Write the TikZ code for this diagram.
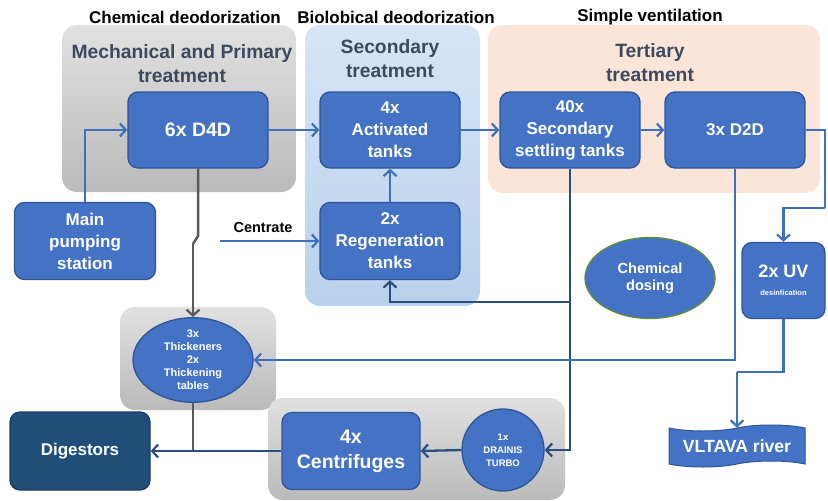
\documentclass[tikz,border=0pt]{standalone}
\usepackage{fontspec}
\setmainfont{Liberation Sans}
\usetikzlibrary{arrows.meta,shapes.geometric,shapes.symbols}
\definecolor{nodeblue}{HTML}{4472C4}
\definecolor{nodeedge}{HTML}{2F5597}
\definecolor{flowblue}{HTML}{3E70BD}
\definecolor{navyline}{HTML}{2A4E80}
\definecolor{digblue}{HTML}{1F4E79}
\definecolor{titlecol}{HTML}{3D4A5E}
\definecolor{greenedge}{HTML}{5E8E3A}
\tikzset{
  panelgray/.style={rounded corners=15pt, top color=black!12, bottom color=black!27, draw=none},
  panelblue/.style={rounded corners=15pt, top color={rgb,255:red,214;green,229;blue,245}, bottom color={rgb,255:red,185;green,209;blue,236}, draw=none},
  panelorange/.style={rounded corners=15pt, fill={rgb,255:red,251;green,229;blue,216}, draw=none},
  box/.style={rectangle, rounded corners=10pt, fill=nodeblue, draw=nodeedge, line width=1.3pt, text=white, font=\bfseries\fontsize{17}{22}\selectfont, align=center, inner sep=2pt},
  oval/.style={ellipse, fill=nodeblue, draw=nodeedge, line width=1.3pt, text=white, align=center, inner sep=0pt},
  tip/.style={-{Straight Barb[length=6pt,width=13pt,line width=2.2pt]}},
  flow/.style={draw=flowblue, line width=2.8pt, tip},
  plain/.style={draw=flowblue, line width=2.8pt},
  navy/.style={draw=navyline, line width=2.3pt},
  navyarrow/.style={navy, tip},
  grayline/.style={draw=black!65, line width=2.5pt},
  grayarrow/.style={grayline, tip},
  toplabel/.style={font=\bfseries\fontsize{17}{19}\selectfont, text=black},
  paneltitle/.style={font=\bfseries\fontsize{19.3}{24}\selectfont, text=titlecol, align=center}
}
\begin{document}
\begin{tikzpicture}[x=1pt,y=-1pt]
\useasboundingbox (0,0) rectangle (828,501);
\fill[white] (0,0) rectangle (828,501);
% panels
\path[panelgray] (62,25) rectangle (296,192);
\path[panelblue] (305,25) rectangle (480,306);
\path[panelorange] (488,25) rectangle (820,193);
\path[panelgray] (120,307) rectangle (276,410);
\path[panelgray] (268,398) rectangle (565,500);
% top labels
\node[toplabel] (l1) at (185,17) {Chemical deodorization};
\node[toplabel] (l2) at (396,17) {Biolobical deodorization};
\node[toplabel] (l3) at (650,17) {Simple ventilation};
% panel titles
\node[paneltitle] (t1) at (182,64) {Mechanical and Primary\\treatment};
\node[paneltitle] (t2) at (390,59) {Secondary\\treatment};
\node[paneltitle] (t3) at (650,63) {Tertiary\\treatment};
% nodes
\node[box, minimum width=140pt, minimum height=76pt, font=\bfseries\fontsize{19.5}{22}\selectfont] (d4d) at (198,130) {6x D4D};
\node[box, minimum width=140pt, minimum height=76pt] (act) at (390,130) {4x\\Activated\\tanks};
\node[box, minimum width=140pt, minimum height=76pt] (sst) at (570,130) {40x\\Secondary\\settling tanks};
\node[box, minimum width=140pt, minimum height=76pt] (d2d) at (735,130) {3x D2D};
\node[box, minimum width=141pt, minimum height=77pt] (mps) at (85,241) {Main\\pumping\\station};
\node[box, minimum width=140pt, minimum height=77pt] (reg) at (390,241) {2x\\Regeneration\\tanks};
\node[oval, draw=greenedge, minimum width=130pt, minimum height=81pt, font=\bfseries\fontsize{14.6}{17}\selectfont] (chem) at (650,278) {Chemical\\dosing};
\node[box, minimum width=83pt, minimum height=76pt] (uv) at (783.5,280.5) {\fontsize{18}{19}\selectfont 2x UV\\[-4pt]{\fontsize{7.5}{8}\selectfont desinfication}};
\node[tape, fill=nodeblue, draw=nodeedge, line width=1pt, text=white, font=\bfseries\fontsize{17.6}{19}\selectfont, minimum width=136pt, minimum height=42pt, tape bend height=6pt] (river) at (737,446) {VLTAVA river};
\node[oval, minimum width=120pt, minimum height=81pt, font=\bfseries\fontsize{11}{13}\selectfont] (thick) at (193,360) {3x\\Thickeners\\2x\\Thickening\\tables};
\node[box, fill=digblue, draw=digblue!80!black, minimum width=140pt, minimum height=78pt] (dig) at (80,451) {Digestors};
\node[box, minimum width=138pt, minimum height=77pt, font=\bfseries\fontsize{19.5}{25}\selectfont] (cent) at (351,451) {4x\\Centrifuges};
\node[circle, fill=nodeblue, draw=nodeedge, line width=1.3pt, text=white, minimum size=82pt, inner sep=0pt, align=center, font=\bfseries\fontsize{9.5}{13}\selectfont] (drain) at (503,450) {1x\\DRAINIS\\TURBO};
% helper coordinates
\coordinate (c1) at (825,208);
\coordinate (c2) at (737,372);
\coordinate (ctr) at (220,241);
\coordinate (br) at (570,302);
\coordinate (j1) at (198,236);
\coordinate (j2) at (193,244);
\coordinate (jn) at (193,451);
% centrate label
\node[font=\bfseries\fontsize{14.5}{16}\selectfont] (centrate) at (263,228) {Centrate};
% connectors
\draw[flow] (mps.north) |- (d4d.west);
\draw[flow] (d4d.east) -- (act.west);
\draw[flow] (act.east) -- (sst.west);
\draw[flow] (sst.east) -- (d2d.west);
\draw[plain] (d2d.east) -| (c1);
\draw[flow] (c1) -| (uv.north);
\draw[plain] (uv.south) |- (c2);
\draw[flow] (c2) -- (river.north);
\draw[flow] (reg.north) -- (act.south);
\draw[flow] (ctr) -- (reg.west);
\draw[navyarrow] (sst.south) |- (drain.east);
\draw[navyarrow] (br) -| (reg.south);
\draw[flow] (d2d.south) |- (thick.east);
\draw[grayline] (d4d.south) -- (j1) -- (j2);
\draw[grayarrow] (j2) -- (thick.north);
\draw[grayline] (thick.south) -- (jn);
\draw[navyarrow] (cent.west) -- (dig.east);
\draw[navyarrow] (drain.west) -- (cent.east);
\end{tikzpicture}
\end{document}
